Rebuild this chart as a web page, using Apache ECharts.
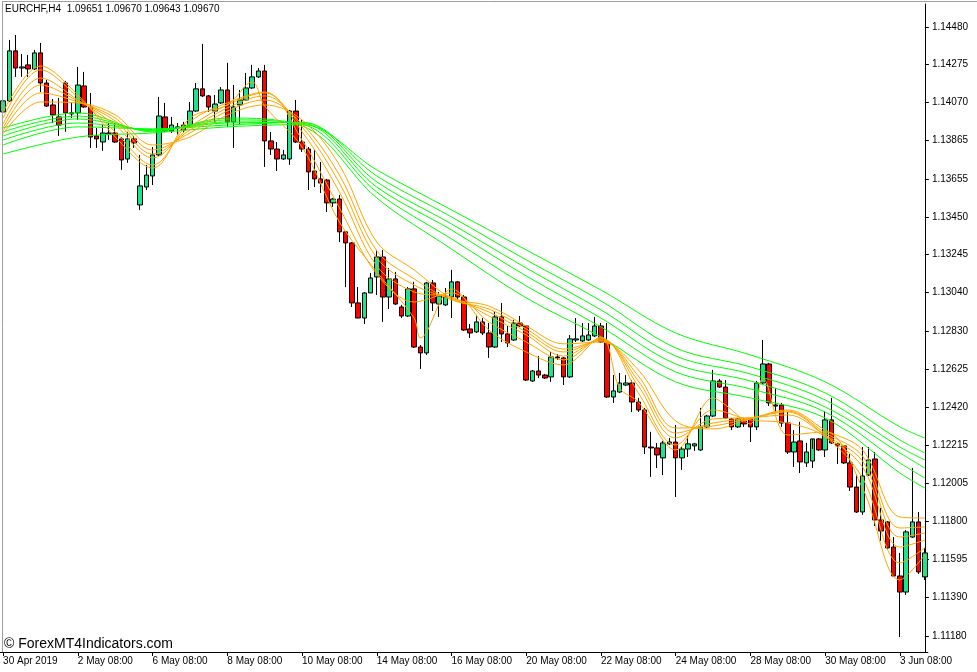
<!DOCTYPE html>
<html><head><meta charset="utf-8">
<script src="https://cdn.jsdelivr.net/npm/echarts@6/dist/echarts.min.js"></script>
<style>html,body{margin:0;padding:0;background:#fff}#c{width:977px;height:672px}</style>
</head><body><div id="c"></div><script>
// ---- categories (H4 bars) ----
const tradingDays = ['30 Apr','1 May','2 May','3 May','6 May','7 May','8 May','9 May','10 May','13 May','14 May','15 May','16 May','17 May','20 May','21 May','22 May','23 May','24 May','27 May','28 May','29 May','30 May','31 May','3 Jun','4 Jun'];
const barHours = ['00:00','04:00','08:00','12:00','16:00','20:00'];
const firstLabel = '30 Apr 2019';
const headerText = 'EURCHF,H4  1.09651 1.09670 1.09643 1.09670';
const watermark = '\u00A9 ForexMT4Indicators.com';

// ---- OHLC ----
const opens = [1.14019,1.14079,1.14350,1.14257,1.14274,1.14252,1.14339,1.14176,1.14057,1.13992,1.14176,1.14008,1.14014,1.14160,1.14046,1.13889,1.13856,1.13900,1.13905,1.13873,1.13764,1.13873,1.13515,1.13612,1.13672,1.13786,1.13992,1.13916,1.13932,1.13921,1.13943,1.14024,1.14144,1.14106,1.14024,1.14068,1.14138,1.13965,1.14057,1.14084,1.14149,1.14209,1.14241,1.13862,1.13818,1.13764,1.13764,1.14024,1.13856,1.13818,1.13699,1.13656,1.13650,1.13526,1.13547,1.13369,1.13309,1.12984,1.12902,1.13038,1.13125,1.13233,1.13016,1.13114,1.12962,1.12913,1.13060,1.12745,1.12713,1.13092,1.12978,1.12973,1.13016,1.13098,1.13016,1.12843,1.12827,1.12881,1.12821,1.12745,1.12908,1.12816,1.12783,1.12875,1.12859,1.12561,1.12615,1.12593,1.12583,1.12691,1.12686,1.12583,1.12783,1.12778,1.12783,1.12805,1.12859,1.12772,1.12474,1.12501,1.12539,1.12550,1.12447,1.12404,1.12203,1.12198,1.12144,1.12220,1.12230,1.12144,1.12192,1.12209,1.12187,1.12312,1.12371,1.12561,1.12528,1.12355,1.12312,1.12344,1.12355,1.12312,1.12550,1.12653,1.12431,1.12431,1.12333,1.12176,1.12236,1.12117,1.12127,1.12247,1.12187,1.12350,1.12220,1.12209,1.12117,1.11986,1.11851,1.12051,1.12138,1.11808,1.11797,1.11661,1.11504,1.11417,1.11715,1.11797,1.11499];
const closes = [1.14079,1.14350,1.14257,1.14263,1.14252,1.14339,1.14176,1.14051,1.14003,1.13948,1.14014,1.14014,1.14165,1.14046,1.13883,1.13873,1.13905,1.13905,1.13856,1.13759,1.13873,1.13851,1.13618,1.13677,1.13786,1.13997,1.13916,1.13948,1.13938,1.13948,1.14024,1.14144,1.14106,1.14046,1.14062,1.14138,1.13965,1.14046,1.14084,1.14149,1.14209,1.14241,1.13862,1.13818,1.13764,1.13786,1.14024,1.13856,1.13818,1.13694,1.13656,1.13634,1.13526,1.13547,1.13369,1.13309,1.12984,1.12902,1.13038,1.13119,1.13233,1.13016,1.13114,1.12978,1.12913,1.13060,1.12745,1.12713,1.13092,1.12984,1.13022,1.13016,1.13098,1.13016,1.12837,1.12821,1.12881,1.12821,1.12745,1.12908,1.12816,1.12767,1.12875,1.12859,1.12566,1.12615,1.12593,1.12577,1.12691,1.12686,1.12583,1.12789,1.12789,1.12805,1.12810,1.12859,1.12772,1.12474,1.12507,1.12550,1.12550,1.12447,1.12404,1.12203,1.12198,1.12160,1.12225,1.12230,1.12144,1.12192,1.12220,1.12220,1.12312,1.12371,1.12561,1.12528,1.12360,1.12312,1.12355,1.12328,1.12312,1.12550,1.12653,1.12442,1.12425,1.12333,1.12176,1.12230,1.12122,1.12176,1.12247,1.12187,1.12350,1.12225,1.12209,1.12117,1.11986,1.11851,1.12046,1.12133,1.11808,1.11748,1.11656,1.11504,1.11417,1.11743,1.11797,1.11526,1.11629];
const highs = [1.14095,1.14409,1.14436,1.14333,1.14328,1.14355,1.14393,1.14192,1.14089,1.14095,1.14187,1.14068,1.14263,1.14236,1.14122,1.13932,1.13948,1.13959,1.13959,1.13883,1.13911,1.13889,1.13786,1.13732,1.13829,1.14100,1.14068,1.13992,1.13959,1.13965,1.14073,1.14176,1.14388,1.14111,1.14111,1.14154,1.14285,1.14165,1.14138,1.14230,1.14274,1.14257,1.14274,1.13911,1.13856,1.13813,1.14030,1.14084,1.13976,1.13829,1.13813,1.13748,1.13656,1.13553,1.13569,1.13374,1.13314,1.13070,1.13043,1.13146,1.13271,1.13271,1.13173,1.13152,1.12973,1.13070,1.13098,1.12756,1.13098,1.13108,1.13043,1.13065,1.13163,1.13103,1.13027,1.12870,1.12919,1.12902,1.12875,1.12940,1.12984,1.12859,1.12892,1.12913,1.12864,1.12621,1.12696,1.12599,1.12718,1.12707,1.12691,1.12810,1.12902,1.12875,1.12875,1.12908,1.12875,1.12875,1.12593,1.12604,1.12593,1.12566,1.12469,1.12415,1.12285,1.12225,1.12236,1.12252,1.12322,1.12203,1.12263,1.12225,1.12415,1.12377,1.12621,1.12572,1.12566,1.12360,1.12360,1.12360,1.12360,1.12561,1.12783,1.12659,1.12523,1.12442,1.12393,1.12295,1.12339,1.12225,1.12192,1.12252,1.12398,1.12469,1.12225,1.12214,1.12165,1.12051,1.12203,1.12203,1.12176,1.11873,1.11802,1.11715,1.11629,1.11753,1.12089,1.11851,1.11656];
const lows = [1.13921,1.14073,1.14209,1.14209,1.14209,1.14247,1.14127,1.14046,1.13959,1.13889,1.13911,1.13986,1.13976,1.14041,1.13824,1.13824,1.13808,1.13867,1.13851,1.13705,1.13743,1.13824,1.13488,1.13596,1.13623,1.13780,1.13911,1.13905,1.13894,1.13905,1.13932,1.14019,1.14100,1.14019,1.13965,1.14062,1.13938,1.13824,1.13948,1.14079,1.14144,1.14203,1.13721,1.13786,1.13699,1.13759,1.13732,1.13851,1.13802,1.13596,1.13612,1.13580,1.13477,1.13504,1.13314,1.13070,1.12962,1.12902,1.12870,1.13038,1.13027,1.12881,1.12951,1.12973,1.12902,1.12908,1.12740,1.12626,1.12702,1.12940,1.12908,1.12967,1.12902,1.13000,1.12832,1.12794,1.12821,1.12810,1.12686,1.12740,1.12772,1.12745,1.12778,1.12854,1.12561,1.12556,1.12577,1.12572,1.12556,1.12675,1.12539,1.12577,1.12772,1.12772,1.12778,1.12799,1.12767,1.12469,1.12442,1.12496,1.12534,1.12393,1.12393,1.12165,1.12041,1.12089,1.12051,1.12214,1.11932,1.12079,1.12149,1.12182,1.12182,1.12306,1.12366,1.12523,1.12355,1.12295,1.12306,1.12312,1.12230,1.12295,1.12545,1.12425,1.12388,1.12312,1.12165,1.12095,1.12062,1.12095,1.12089,1.12182,1.12149,1.12220,1.12111,1.12111,1.11965,1.11846,1.11835,1.12046,1.11775,1.11694,1.11645,1.11499,1.11173,1.11401,1.11710,1.11515,1.11482];

// ---- GMMA short-term (orange) ----
const ema3Idx = [0,6,12,18,24,30,36,40,42,48,54,60,66,67,72,78,84,90,96,99,102,108,114,116,120,122,126,132,138,144,148];
const ema3  = [1.14019,1.14268,1.14111,1.13883,1.13715,1.13986,1.14057,1.14182,1.14051,1.13829,1.13423,1.13152,1.12902,1.12794,1.13060,1.12837,1.12718,1.12648,1.12799,1.12523,1.12447,1.12187,1.12469,1.12431,1.12328,1.12577,1.12268,1.12285,1.11981,1.11482,1.11618];
const orangeIdx = [0,6,12,18,24,30,36,42,48,54,60,66,72,78,84,90,96,102,108,114,120,126,132,138,144,148];
const ema5  = [1.13986,1.14247,1.14100,1.13911,1.13732,1.13965,1.14068,1.14127,1.13867,1.13499,1.13141,1.12989,1.13038,1.12881,1.12772,1.12675,1.12794,1.12496,1.12214,1.12404,1.12350,1.12333,1.12258,1.12035,1.11575,1.11656];
const ema8  = [1.13954,1.14203,1.14084,1.13948,1.13770,1.13938,1.14057,1.14122,1.13911,1.13585,1.13184,1.13043,1.13016,1.12913,1.12810,1.12696,1.12789,1.12534,1.12252,1.12355,1.12362,1.12377,1.12263,1.12095,1.11661,1.11699];
const ema10 = [1.13932,1.14165,1.14079,1.13970,1.13791,1.13921,1.14041,1.14106,1.13938,1.13634,1.13228,1.13081,1.13005,1.12935,1.12827,1.12718,1.12783,1.12561,1.12279,1.12333,1.12360,1.12393,1.12268,1.12127,1.11715,1.11737];
const ema12 = [1.13916,1.14122,1.14073,1.13986,1.13813,1.13905,1.14024,1.14084,1.13954,1.13677,1.13266,1.13114,1.13000,1.12951,1.12843,1.12734,1.12778,1.12588,1.12306,1.12317,1.12358,1.12398,1.12279,1.12154,1.11764,1.11770];
const ema15 = [1.13900,1.14073,1.14068,1.14003,1.13840,1.13883,1.14003,1.14057,1.13976,1.13732,1.13314,1.13163,1.13011,1.12967,1.12859,1.12762,1.12772,1.12621,1.12344,1.12301,1.12355,1.12404,1.12295,1.12187,1.11824,1.11818];

// ---- GMMA long-term (green), read at every 12th bar ----
const greenIdx = [0,12,24,36,48,60,72,84,96,108,120,132,144,148];
const ema30 = [1.13932,1.14014,1.13911,1.13986,1.13943,1.13553,1.13276,1.13011,1.12799,1.12556,1.12469,1.12360,1.12062,1.11981];
const ema35 = [1.13911,1.13997,1.13916,1.13976,1.13952,1.13585,1.13331,1.13076,1.12854,1.12610,1.12518,1.12393,1.12117,1.12035];
const ema40 = [1.13889,1.13981,1.13921,1.13965,1.13958,1.13612,1.13379,1.13130,1.12902,1.12653,1.12561,1.12420,1.12171,1.12089];
const ema45 = [1.13867,1.13959,1.13924,1.13959,1.13962,1.13640,1.13412,1.13173,1.12946,1.12696,1.12599,1.12458,1.12203,1.12133];
const ema50 = [1.13840,1.13938,1.13927,1.13948,1.13963,1.13672,1.13450,1.13217,1.12995,1.12740,1.12637,1.12496,1.12241,1.12171];
const ema60 = [1.13791,1.13883,1.13905,1.13938,1.13950,1.13705,1.13488,1.13271,1.13054,1.12821,1.12702,1.12556,1.12312,1.12252];

// ---- price axis ----
const yTicks = [1.14480,1.14275,1.14070,1.13865,1.13655,1.13450,1.13245,1.13040,1.12830,1.12625,1.12420,1.12215,1.12005,1.11800,1.11595,1.11390,1.11180];
const yMin = 1.11092, yMax = 1.14604;

// ---- build ----
const categories = [];
tradingDays.forEach(d => barHours.forEach(h => categories.push(d + ' ' + h)));
categories.splice(0, 2);
categories.length = opens.length;

const ohlc = opens.map((o, i) => [o, closes[i], lows[i], highs[i]]);
const lineSeries = (idx, arr, color) => ({
  type: 'line', data: idx.map((k, j) => [k, arr[j]]), showSymbol: false, symbol: 'none',
  smooth: 0.35, lineStyle: { color: color, width: 1 }, z: 3, silent: true
});

const chart = echarts.init(document.getElementById('c'));
chart.setOption({
  animation: false,
  backgroundColor: '#ffffff',
  grid: { left: -0.4, top: 4, width: 928.3, height: 648 },
  xAxis: {
    type: 'category', data: categories, boundaryGap: true,
    axisLine: { lineStyle: { color: '#000', width: 1 } },
    axisTick: { show: true, interval: 11, alignWithLabel: true, length: 4, lineStyle: { color: '#000' } },
    axisLabel: { interval: 11, align: 'left', margin: 4, color: '#000', fontFamily: 'Liberation Sans', fontSize: 10,
      formatter: (v, i) => i === 0 ? firstLabel : v },
    splitLine: { show: false }
  },
  yAxis: {
    type: 'value', position: 'right', min: yMin, max: yMax, offset: -3,
    axisLine: { show: true, lineStyle: { color: '#000', width: 1 } },
    axisTick: { show: true, customValues: yTicks, length: 4, lineStyle: { color: '#000' } },
    axisLabel: { customValues: yTicks, formatter: v => v.toFixed(5), color: '#000', fontFamily: 'Liberation Sans', fontSize: 10, margin: 7 },
    splitLine: { show: false }
  },
  series: [
    { type: 'candlestick', data: ohlc, barWidth: 5, z: 2,
      itemStyle: { color: '#19e68c', color0: '#ff0000', borderColor: '#000', borderColor0: '#000', borderWidth: 1 } },
    lineSeries(greenIdx, ema30, '#00ff00'),
    lineSeries(greenIdx, ema35, '#00ff00'),
    lineSeries(greenIdx, ema40, '#00ff00'),
    lineSeries(greenIdx, ema45, '#00ff00'),
    lineSeries(greenIdx, ema50, '#00ff00'),
    lineSeries(greenIdx, ema60, '#00ff00'),
    lineSeries(ema3Idx, ema3, '#ffa500'),
    lineSeries(orangeIdx, ema5, '#ffa500'),
    lineSeries(orangeIdx, ema8, '#ffa500'),
    lineSeries(orangeIdx, ema10, '#ffa500'),
    lineSeries(orangeIdx, ema12, '#ffa500'),
    lineSeries(orangeIdx, ema15, '#ffa500')
  ],
  graphic: [
    { type: 'line', shape: { x1: 2.5, y1: 1.5, x2: 2.5, y2: 652 }, style: { stroke: '#a0a0a0', lineWidth: 1 }, z: 10 },
    { type: 'line', shape: { x1: 2, y1: 1.5, x2: 977, y2: 1.5 }, style: { stroke: '#a0a0a0', lineWidth: 1 }, z: 10 },
    { type: 'text', left: 5, top: 4, z: 10, style: { text: headerText, font: '10px "Liberation Sans"', fill: '#000' } },
    { type: 'text', left: 4, top: 637, z: 10, style: { text: watermark, font: '14px "Liberation Sans"', fill: '#000' } }
  ]
});
</script></body></html>
